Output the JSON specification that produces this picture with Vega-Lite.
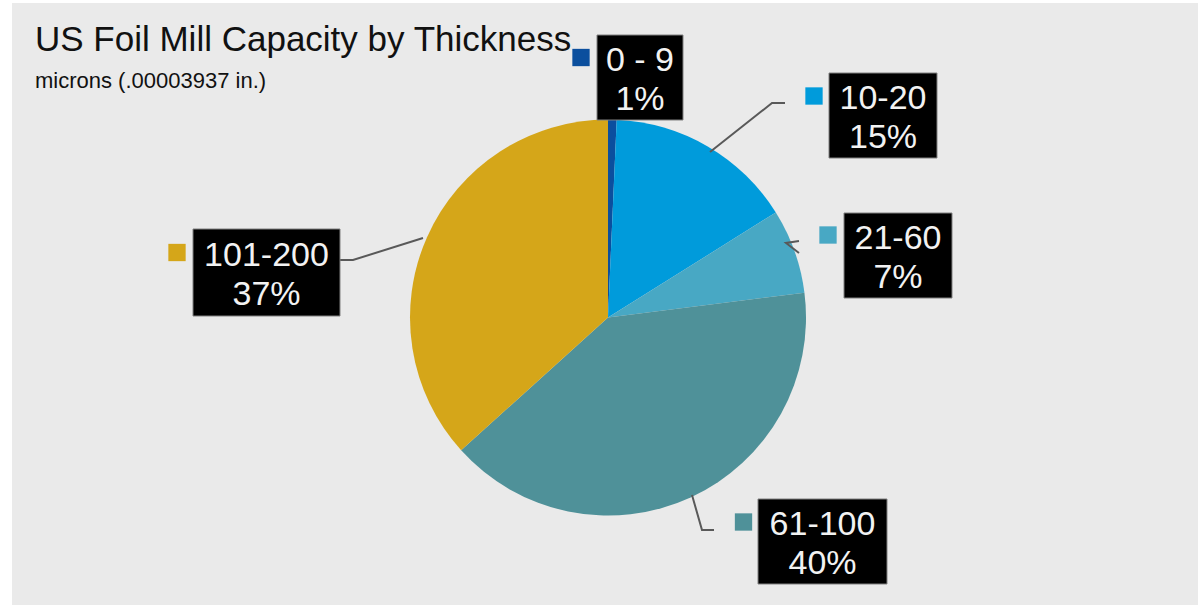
{
  "$schema": "https://vega.github.io/schema/vega-lite/v6.json",
  "width": 1198,
  "height": 609,
  "autosize": {"type": "fit", "contains": "padding"},
  "padding": {"left": 12, "top": 3, "right": 0, "bottom": 4},
  "background": "#FFFFFF",
  "config": {"view": {"fill": "#EAEAEA", "stroke": null}, "font": "Liberation Sans"},
  "title": {
    "text": "US Foil Mill Capacity by Thickness",
    "subtitle": "microns (.00003937 in.)",
    "anchor": "start",
    "frame": "group",
    "orient": "top",
    "offset": -89,
    "dx": 23,
    "fontSize": 35,
    "fontWeight": "normal",
    "color": "#111111",
    "font": "Liberation Sans",
    "subtitleFont": "Liberation Sans",
    "subtitleFontSize": 22,
    "subtitleColor": "#111111",
    "subtitlePadding": 13
  },
  "datasets": {
    "slices": [
      {"range": "0 - 9", "idx": 1, "share": 0.007},
      {"range": "10-20", "idx": 2, "share": 0.154},
      {"range": "21-60", "idx": 3, "share": 0.069},
      {"range": "61-100", "idx": 4, "share": 0.403},
      {"range": "101-200", "idx": 5, "share": 0.367}
    ],
    "leaders": [
      {"range": "10-20", "v": 1},
      {"range": "10-20", "v": 2},
      {"range": "10-20", "v": 3},
      {"range": "21-60", "v": 4},
      {"range": "21-60", "v": 5},
      {"range": "21-60", "v": 6},
      {"range": "61-100", "v": 7},
      {"range": "61-100", "v": 8},
      {"range": "61-100", "v": 9},
      {"range": "101-200", "v": 10},
      {"range": "101-200", "v": 11},
      {"range": "101-200", "v": 12}
    ]
  },
  "data": {"name": "slices"},
  "layer": [
    {
      "mark": {"type": "arc", "outerRadius": 198, "xOffset": 3, "yOffset": 13.5},
      "encoding": {
        "theta": {"field": "share", "type": "quantitative", "stack": true},
        "color": {
          "field": "range",
          "type": "nominal",
          "scale": {
            "domain": ["0 - 9", "10-20", "21-60", "61-100", "101-200"],
            "range": ["#0B4F9E", "#009BDB", "#48A8C4", "#4F9199", "#D5A619"]
          },
          "legend": null
        },
        "order": {"field": "idx", "type": "quantitative", "sort": "ascending"}
      }
    },
    {
      "data": {"name": "leaders"},
      "mark": {"type": "line", "color": "#595959", "strokeWidth": 2},
      "encoding": {
        "x": {
          "field": "v",
          "type": "quantitative",
          "scale": {
            "domain": [1, 2, 3, 4, 5, 6, 7, 8, 9, 10, 11, 12],
            "range": [698, 760, 773, 787, 774, 787, 680, 690, 702, 328, 341, 411],
            "zero": false,
            "nice": false
          },
          "axis": null
        },
        "y": {
          "field": "v",
          "type": "quantitative",
          "scale": {
            "domain": [1, 2, 3, 4, 5, 6, 7, 8, 9, 10, 11, 12],
            "range": [149, 100, 100, 238, 240, 250, 492, 527, 527, 257, 257, 235],
            "zero": false,
            "nice": false
          },
          "axis": null
        },
        "detail": {"field": "range", "type": "nominal"},
        "order": {"field": "v", "type": "quantitative"}
      }
    },
    {
      "mark": {"type": "point", "filled": true, "fill": "#000000", "stroke": "#808080", "strokeWidth": 1, "size": 4, "opacity": 1},
      "encoding": {
        "x": {
          "field": "idx",
          "type": "quantitative",
          "scale": {"domain": [1, 2, 3, 4, 5], "range": [628, 871, 886, 810.5, 254.5], "zero": false, "nice": false},
          "axis": null
        },
        "y": {
          "field": "idx",
          "type": "quantitative",
          "scale": {"domain": [1, 2, 3, 4, 5], "range": [74.5, 112.5, 252.5, 538.5, 269.5], "zero": false, "nice": false},
          "axis": null
        },
        "shape": {
          "field": "range",
          "type": "nominal",
          "scale": {
            "domain": ["0 - 9", "10-20", "21-60", "61-100", "101-200"],
            "range": [
              "M-43,-42.5L43,-42.5L43,42.5L-43,42.5Z",
              "M-54,-42.5L54,-42.5L54,42.5L-54,42.5Z",
              "M-54,-42.5L54,-42.5L54,42.5L-54,42.5Z",
              "M-64.5,-42.5L64.5,-42.5L64.5,42.5L-64.5,42.5Z",
              "M-73.5,-43.5L73.5,-43.5L73.5,43.5L-73.5,43.5Z"
            ]
          },
          "legend": null
        }
      }
    },
    {
      "mark": {"type": "point", "shape": "square", "filled": true, "size": 300, "opacity": 1},
      "encoding": {
        "x": {
          "field": "idx",
          "type": "quantitative",
          "scale": {"domain": [1, 2, 3, 4, 5], "range": [569, 802, 816, 731.5, 165], "zero": false, "nice": false},
          "axis": null
        },
        "y": {
          "field": "idx",
          "type": "quantitative",
          "scale": {"domain": [1, 2, 3, 4, 5], "range": [54.5, 93, 232, 519, 249.5], "zero": false, "nice": false},
          "axis": null
        },
        "color": {"field": "range", "type": "nominal", "legend": null}
      }
    },
    {
      "mark": {"type": "text", "fontSize": 34, "color": "#F2F2F2", "align": "center", "baseline": "middle", "dy": -17},
      "encoding": {
        "x": {
          "field": "idx",
          "type": "quantitative",
          "scale": {"domain": [1, 2, 3, 4, 5], "range": [628, 871, 886, 810.5, 254.5], "zero": false, "nice": false},
          "axis": null
        },
        "y": {
          "field": "idx",
          "type": "quantitative",
          "scale": {"domain": [1, 2, 3, 4, 5], "range": [74.5, 112.5, 252.5, 538.5, 269.5], "zero": false, "nice": false},
          "axis": null
        },
        "text": {"field": "range", "type": "nominal"}
      }
    },
    {
      "mark": {"type": "text", "fontSize": 34, "color": "#F2F2F2", "align": "center", "baseline": "middle", "dy": 22},
      "encoding": {
        "x": {
          "field": "idx",
          "type": "quantitative",
          "scale": {"domain": [1, 2, 3, 4, 5], "range": [628, 871, 886, 810.5, 254.5], "zero": false, "nice": false},
          "axis": null
        },
        "y": {
          "field": "idx",
          "type": "quantitative",
          "scale": {"domain": [1, 2, 3, 4, 5], "range": [74.5, 112.5, 252.5, 538.5, 269.5], "zero": false, "nice": false},
          "axis": null
        },
        "text": {"field": "share", "type": "quantitative", "format": ".0%"}
      }
    }
  ],
  "resolve": {"scale": {"x": "independent", "y": "independent"}}
}
